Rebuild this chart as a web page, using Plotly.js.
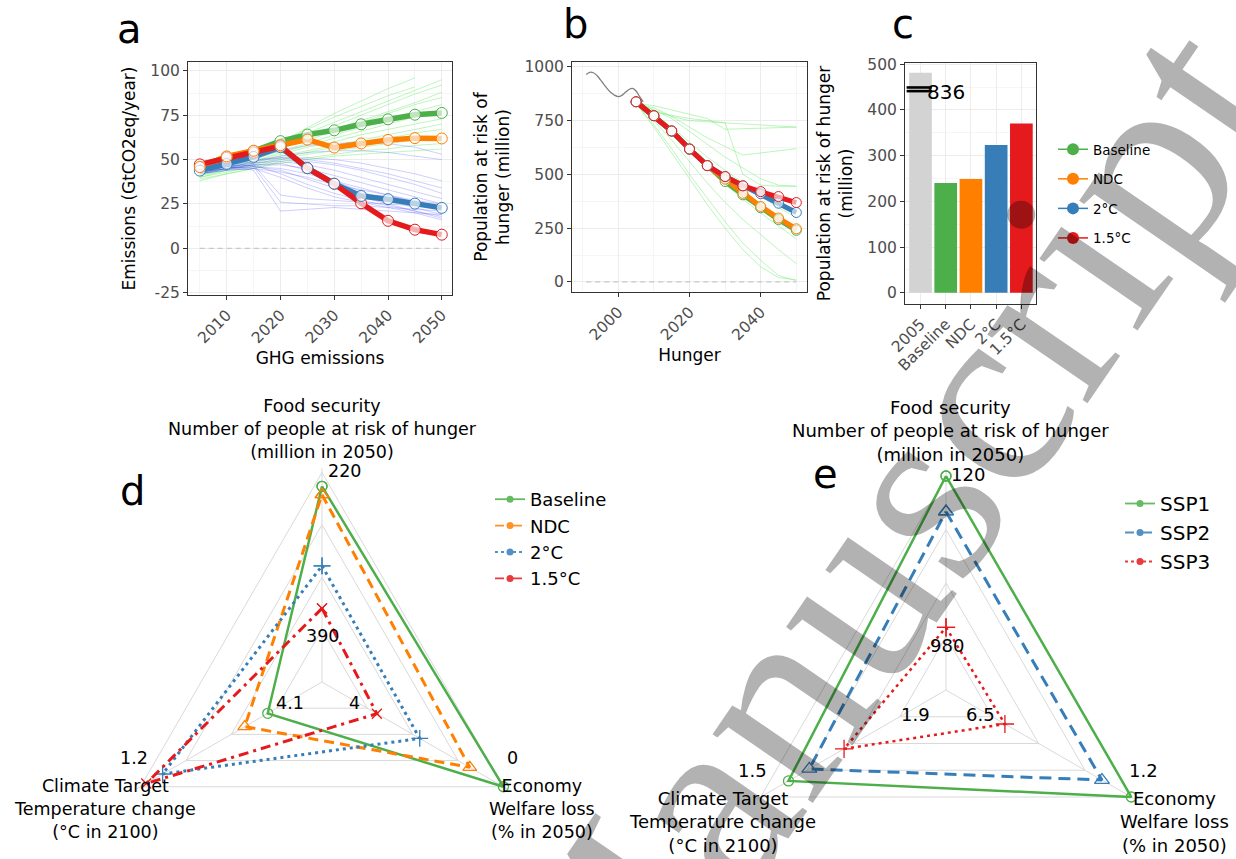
<!DOCTYPE html>
<html><head><meta charset="utf-8">
<script src="https://cdn.plot.ly/plotly-3.0.1.min.js"></script>
<style>
html,body{margin:0;padding:0;overflow:hidden;background:#fff}
#wrap{width:1236px;height:859px;overflow:hidden;position:relative}
#chart{width:1236px;height:910px}
</style>
</head><body><div id="wrap"><div id="chart"></div></div>
<script>
// ---------------- DATA ----------------
const years = [2005,2010,2015,2020,2025,2030,2035,2040,2045,2050];

// Panel a: GHG emissions (GtCO2eq/year)
const emisBaseline = [46,51.5,54.8,60.4,64.1,66.5,69.9,72.7,75.3,76.3];
const emisNDC      = [45.8,51.8,55,58.1,61.3,56.8,59.1,61.1,62.1,61.9];
const emis2C       = [43.8,47.5,51.5,57,45.2,36.4,29.5,27.7,25.2,22.8];
const emis15C      = [47.3,51,54,57.6,45.2,36.4,25.4,15.5,10.5,7.7];
const emisBaseEns = [
  [44,48,53,60,68,76,83,90,96,null],
  [44,48,54,60,67,74,80,86,91,null],
  [45,49,54,59,65,71,77,83,89,95],
  [44,48,53,58,63,69,75,81,87,92],
  [43,47,52,57,62,67,72,77,82,88],
  [43,47,51,56,61,66,71,76,81,85],
  [42,46,50,55,59,64,68,72,77,81],
  [42,45,49,54,58,62,66,70,74,78],
  [41,45,49,53,57,60,64,67,70,73],
  [41,44,48,52,55,58,61,64,67,70],
  [40,44,47,51,54,57,60,62,65,67],
  [40,43,46,50,53,55,57,59,61,63],
  [39,42,45,49,51,53,55,56,58,59],
  [38,42,45,48,50,52,53,54,55,56]
];
const emisMitEns = [
  [44,47,51,55,58,59,60,59,57,53],
  [43,46,49,52,54,55,55,54,52,50],
  [44,47,50,51,50,48,45,42,38,34],
  [43,46,48,49,47,44,40,36,32,28],
  [44,46,47,47,45,41,37,33,29,25],
  [43,45,46,45,42,38,34,30,26,22],
  [42,45,47,48,44,38,32,27,23,19],
  [43,45,46,44,39,34,29,25,21,17],
  [44,46,47,42,36,31,27,24,21,18],
  [42,44,45,40,34,29,26,23,20,16],
  [43,45,47,30,28,27,26,25,24,23],
  [44,46,44,21,22,23,22,21,20,19],
  [42,45,46,26,25,24,24,23,22,21],
  [43,46,48,50,49,47,44,40,36,31],
  [44,47,49,51,51,50,48,45,42,38],
  [42,44,45,43,40,36,33,30,27,25]
];

// Panel b: population at risk of hunger (million)
const histYears  = [1991,1992,1993,1994,1995,1996,1997,1998,1999,2000,2001,2002,2003,2004,2005,2006,2007];
const histHunger = [965,975,973,960,940,918,897,880,868,862,868,882,895,900,888,862,838];
const hungerBaseline = [838,773,702,618,541,467,405,345,290,240];
const hungerNDC      = [838,773,702,618,541,478,412,351,297,247];
const hunger2C       = [838,773,702,618,541,490,447,410,366,323];
const hunger15C      = [838,773,702,618,541,490,447,420,397,369];
const hungerEns = [
  [830,790,775,760,750,740,735,730,725,720],
  [830,820,800,780,760,710,712,715,718,720],
  [830,810,770,720,670,630,590,600,610,620],
  [830,800,770,750,745,740,500,450,445,445],
  [830,800,760,700,640,580,530,480,450,445],
  [830,780,720,650,580,520,460,400,345,300],
  [830,770,700,620,545,470,410,350,300,255],
  [830,760,690,610,530,455,385,320,260,200],
  [830,750,660,560,460,370,290,220,150,85],
  [830,720,600,480,360,250,150,70,20,10],
  [830,730,620,500,390,280,180,100,30,5]
];

// Panel c: bars
const barCats = ['2005','Baseline','NDC','2°C','1.5°C'];
const barVals = [836,240,249,323,370];
const barCap = 481;

// Panels d/e: radar values
const radarAxes = ['Food security','Economy','Climate Target'];
const dScen = ['Baseline','NDC','2°C','1.5°C'];
const dFood = [235,244,321,367];
const dEcon = [0,0.99,2.46,3.72];
const dClim = [3.91,3.42,1.67,1.32];
const dInner = [390,4,4.1];
const dOuter = [220,0,1.2];
const eScen = ['SSP1','SSP2','SSP3'];
const eFood = [120,311,931];
const eEcon = [1.2,2.32,6.02];
const eClim = [1.58,1.64,1.74];
const eInner = [980,6.5,1.9];
const eOuter = [120,1.2,1.5];

// ---------------- STYLE / LAYOUT HELPERS ----------------
const W = 1236, H = 910;
const X = p => p / W;
const Y = p => 1 - p / H;
const FONT = 'DejaVu Sans';
const C = {green:'#4daf4a', orange:'#ff7f00', blue:'#377eb8', red:'#e41a1c'};
const barColors = ['#d3d3d3', C.green, C.orange, C.blue, C.red];

const traces = [];

// ---- panel a ----
emisBaseEns.forEach(v => traces.push({x:years, y:v, xaxis:'x', yaxis:'y', mode:'lines',
  line:{color:'rgba(110,235,110,0.45)', width:1}, showlegend:false, hoverinfo:'skip'}));
emisMitEns.forEach(v => traces.push({x:years, y:v, xaxis:'x', yaxis:'y', mode:'lines',
  line:{color:'rgba(30,30,255,0.22)', width:1}, showlegend:false, hoverinfo:'skip'}));
traces.push({x:[years[0], years[years.length-1]], y:[0,0], xaxis:'x', yaxis:'y', mode:'lines',
  line:{color:'#c8c8c8', width:1.3, dash:'5px,4px'}, showlegend:false});
const aSeries = [[emisBaseline,C.green],[emisNDC,C.orange],[emis2C,C.blue],[emis15C,C.red]];
aSeries.forEach(([v,c]) => traces.push({x:years, y:v, xaxis:'x', yaxis:'y', mode:'lines',
  line:{color:c, width:5.5}, showlegend:false}));
[[emisBaseline,C.green],[emis15C,C.red],[emis2C,C.blue],[emisNDC,C.orange]].forEach(([v,c]) =>
  traces.push({x:years, y:v, xaxis:'x', yaxis:'y', mode:'markers',
  marker:{size:11, color:'rgba(255,255,255,0.65)', line:{color:c, width:1}}, showlegend:false}));

// ---- panel b ----
hungerEns.forEach(v => traces.push({x:years, y:v, xaxis:'x2', yaxis:'y2', mode:'lines',
  line:{color:'rgba(120,235,120,0.5)', width:1}, showlegend:false}));
traces.push({x:[histYears[0], years[years.length-1]], y:[0,0], xaxis:'x2', yaxis:'y2', mode:'lines',
  line:{color:'#c8c8c8', width:1.3, dash:'5px,4px'}, showlegend:false});
traces.push({x:histYears, y:histHunger, xaxis:'x2', yaxis:'y2', mode:'lines',
  line:{color:'#808080', width:1.3, shape:'spline'}, showlegend:false});
const bSeries = [[hungerBaseline,C.green],[hungerNDC,C.orange],[hunger2C,C.blue],[hunger15C,C.red]];
bSeries.forEach(([v,c]) => traces.push({x:years, y:v, xaxis:'x2', yaxis:'y2', mode:'lines',
  line:{color:c, width:5}, showlegend:false}));
bSeries.forEach(([v,c]) => traces.push({x:years, y:v, xaxis:'x2', yaxis:'y2', mode:'markers',
  marker:{size:10, color:'rgba(255,255,255,0.6)', line:{color:c, width:1}}, showlegend:false}));

// ---- panel c ----
traces.push({type:'bar', x:barCats, y:barVals.map(v => Math.min(v, barCap)), xaxis:'x3', yaxis:'y3',
  marker:{color:barColors}, width:0.9, showlegend:false});
traces.push({x:[-0.5, 4.5], y:[0,0], xaxis:'x3', yaxis:'y3', mode:'lines',
  line:{color:'#d0d0d0', width:1.3, dash:'5px,4px'}, showlegend:false});
dScen.forEach((n,i) => traces.push({x:[null], y:[null], xaxis:'x3', yaxis:'y3', mode:'lines+markers',
  name:n, legend:'legend', legendgroup:'c'+i,
  line:{color:barColors[i+1], width:1.5}, marker:{size:12, color:barColors[i+1]}}));

// ---- panels d / e (radar) ----
const rad = (v, k, inner, outer) => 0.25 + 0.75 * (v - inner[k]) / (outer[k] - inner[k]);
function radarTrace(sub, vals, inner, outer, name, color, dash, symbol, size, width){
  const r = vals.map((v,k) => rad(v, k, inner, outer));
  return {type:'scatterpolar', subplot:sub, r:[...r, r[0]], theta:[...radarAxes, radarAxes[0]],
    mode:'lines+markers', name:name, showlegend:false, cliponaxis:false,
    line:{color:color, width:width, dash:dash},
    marker:{symbol:symbol, size:size, color:color, line:{color:color, width:1.3}}};
}
const dStyle = [[C.green,'solid','circle-open',10,2.5],[C.orange,'10px,6px','triangle-up-open',12,3],
                [C.blue,'3px,4px','cross-thin-open',12,3],[C.red,'10px,5px,3px,5px','x-thin-open',10,3]];
dScen.forEach((n,i) => {
  const s = dStyle[i];
  traces.push(radarTrace('polar', [dFood[i], dEcon[i], dClim[i]], dInner, dOuter, n, s[0], s[1], s[2], s[3], s[4]));
});
dScen.forEach((n,i) => traces.push({type:'scatterpolar', subplot:'polar', r:[null], theta:[null],
  mode:'lines+markers', name:n, legend:'legend2',
  line:{color:dStyle[i][0], width:1.8, dash:['solid','dash','dot','dashdot'][i]},
  marker:{size:7, color:dStyle[i][0]}, opacity:0.85}));

const eStyle = [[C.green,'solid','circle-open',10,2.5],[C.blue,'12px,7px','triangle-up-open',13,3],
                [C.red,'3px,4px','cross-thin-open',13,2.5]];
eScen.forEach((n,i) => {
  const s = eStyle[i];
  traces.push(radarTrace('polar2', [eFood[i], eEcon[i], eClim[i]], eInner, eOuter, n, s[0], s[1], s[2], s[3], s[4]));
});
eScen.forEach((n,i) => traces.push({type:'scatterpolar', subplot:'polar2', r:[null], theta:[null],
  mode:'lines+markers', name:n, legend:'legend3',
  line:{color:eStyle[i][0], width:1.8, dash:['solid','dash','dot'][i]},
  marker:{size:7, color:eStyle[i][0]}, opacity:0.85}));

// ---------------- LAYOUT ----------------
const tickFont = {family:FONT, size:15.5, color:'#4d4d4d'};
const titleFont = {family:FONT, size:17, color:'#000'};
const axBase = {showline:true, mirror:true, linecolor:'#333', linewidth:1, ticks:'outside', ticklen:4,
  tickcolor:'#333', tickfont:tickFont, zeroline:false, showgrid:true, gridcolor:'#ececec', gridwidth:1};

const RMAX = 1.02;
const polarBase = {bgcolor:'rgba(0,0,0,0)', gridshape:'linear',
  radialaxis:{range:[0,RMAX], tickvals:[0.25,0.5,0.75,1], showticklabels:false, ticks:'', showline:false,
    gridcolor:'#d9d9d9', gridwidth:1, layer:'below traces'},
  angularaxis:{type:'category', categoryarray:radarAxes, rotation:90, direction:'clockwise',
    showticklabels:false, ticks:'', showline:false, gridcolor:'#d9d9d9',
    layer:'below traces'}};
function polarDomain(cx, cy, R){ const Rt = R*RMAX;
  return {x:[X(cx-Rt), X(cx+Rt)], y:[Y(cy+Rt), Y(cy-Rt)]}; }

const ann = [];
function txt(text, x, y, size, opts){ ann.push(Object.assign({text:text, x:X(x), y:Y(y), xref:'paper', yref:'paper',
  showarrow:false, xanchor:'center', yanchor:'middle', font:{family:FONT, size:size, color:'#000'}}, opts||{})); }

// panel letters
txt('a',129,29,40); txt('b',575,24,40); txt('c',903,24,40); txt('d',132,491,40); txt('e',825,474,40);

// panel c break + label
ann.push({text:String(barVals[0]), x:1.02, y:barCap-42, xref:'x3', yref:'y3', showarrow:false,
  xanchor:'center', yanchor:'middle', font:{family:FONT, size:20, color:'#000'}});

// radar d labels
const rf = 17.5;
txt('Food security<br>Number of people at risk of hunger<br>(million in 2050)', 322, 429, rf);
txt(String(dOuter[0]), 344, 471, rf); txt(String(dInner[0]), 323, 636, rf);
txt(String(dInner[2]), 290, 703, rf); txt(String(dInner[1]), 354, 703, rf);
txt(String(dOuter[2]), 134, 758, rf); txt(String(dOuter[1]), 512, 758, rf);
txt('Climate Target<br>Temperature change<br>(°C in 2100)', 105, 809, rf);
txt('Economy<br>Welfare loss<br>(% in 2050)', 542, 809, rf);
// radar e labels
const ef = 18;
txt('Food security<br>Number of people at risk of hunger<br>(million in 2050)', 950, 431, ef);
txt(String(eOuter[0]), 968, 474, ef); txt(String(eInner[0]), 947, 645, ef);
txt(String(eInner[2]), 915, 714, ef); txt(String(eInner[1]), 980, 714, ef);
txt(String(eOuter[2]), 752, 770, ef); txt(String(eOuter[1]), 1143, 770, ef);
txt('Climate Target<br>Temperature change<br>(°C in 2100)', 722, 822, ef);
txt('Economy<br>Welfare loss<br>(% in 2050)', 1174, 822, ef);

// watermark
ann.push({text:'Manuscript', x:X(878), y:Y(551), xref:'paper', yref:'paper', showarrow:false,
  textangle:-55.5, xanchor:'center', yanchor:'middle',
  font:{family:'Liberation Serif', size:265, color:'rgba(0,0,0,0.3)'}});

const shapes = [barCap-32, barCap-40].map(yv => ({type:'line', xref:'x3', yref:'y3',
  x0:-0.55, x1:0.45, y0:yv, y1:yv, line:{color:'#000', width:2.6}}));

const layout = {
  width:W, height:H, margin:{l:0,r:0,t:0,b:0}, paper_bgcolor:'#fff', plot_bgcolor:'#fff',
  font:{family:FONT}, hovermode:false,
  xaxis:Object.assign({}, axBase, {domain:[X(188),X(452)], anchor:'y', range:[2002.8,2051.9],
    tickvals:[2010,2020,2030,2040,2050], tickangle:-45,
    minor:{tickvals:[2005,2015,2025,2035,2045], showgrid:true, gridcolor:'#f5f5f5'},
    title:{text:'GHG emissions', font:titleFont, standoff:6}}),
  yaxis:Object.assign({}, axBase, {domain:[Y(295),Y(62)], anchor:'x', range:[-26.3,105],
    tickvals:[-25,0,25,50,75,100], ticktext:['-25','0','25','50','75','100'],
    minor:{tickvals:[-12.5,12.5,37.5,62.5,87.5], showgrid:true, gridcolor:'#f5f5f5'},
    title:{text:'Emissions (GtCO2eq/year)', font:titleFont, standoff:10}}),
  xaxis2:Object.assign({}, axBase, {domain:[X(572),X(807)], anchor:'y2', range:[1987,2053],
    tickvals:[2000,2020,2040], tickangle:-45,
    minor:{tickvals:[1990,2010,2030,2050], showgrid:true, gridcolor:'#f5f5f5'},
    title:{text:'Hunger', font:titleFont, standoff:6}}),
  yaxis2:Object.assign({}, axBase, {domain:[Y(292),Y(62)], anchor:'x2', range:[-47,1023],
    tickvals:[0,250,500,750,1000],
    minor:{tickvals:[125,375,625,875], showgrid:true, gridcolor:'#f5f5f5'},
    title:{text:'Population at risk of<br>hunger (million)', font:titleFont, standoff:10}}),
  xaxis3:Object.assign({}, axBase, {domain:[X(905),X(1036)], anchor:'y3', type:'category',
    range:[-0.615,4.58], tickangle:-45}),
  yaxis3:Object.assign({}, axBase, {domain:[Y(304),Y(63)], anchor:'x3', range:[-24.5,502.5],
    tickvals:[0,100,200,300,400,500],
    minor:{tickvals:[50,150,250,350,450], showgrid:true, gridcolor:'#f5f5f5'},
    title:{text:'Population at risk of hunger<br>(million)', font:titleFont, standoff:10}}),
  polar:Object.assign({}, JSON.parse(JSON.stringify(polarBase)), {domain:polarDomain(322, 682, 209.5)}),
  polar2:Object.assign({}, JSON.parse(JSON.stringify(polarBase)), {domain:polarDomain(946, 690, 214)}),
  legend:{x:X(1053), y:Y(134), xanchor:'left', yanchor:'top', bgcolor:'rgba(0,0,0,0)',
    font:{family:FONT, size:13.5, color:'#000'}, tracegroupgap:9, traceorder:'grouped'},
  legend2:{x:X(490), y:Y(481), xanchor:'left', yanchor:'top', bgcolor:'rgba(0,0,0,0)',
    font:{family:FONT, size:18, color:'#000'}, tracegroupgap:0},
  legend3:{x:X(1120), y:Y(484), xanchor:'left', yanchor:'top', bgcolor:'rgba(0,0,0,0)',
    font:{family:FONT, size:20, color:'#000'}, tracegroupgap:0},
  annotations:ann, shapes:shapes
};

Plotly.newPlot('chart', traces, layout, {displayModeBar:false, staticPlot:true});
</script></body></html>
